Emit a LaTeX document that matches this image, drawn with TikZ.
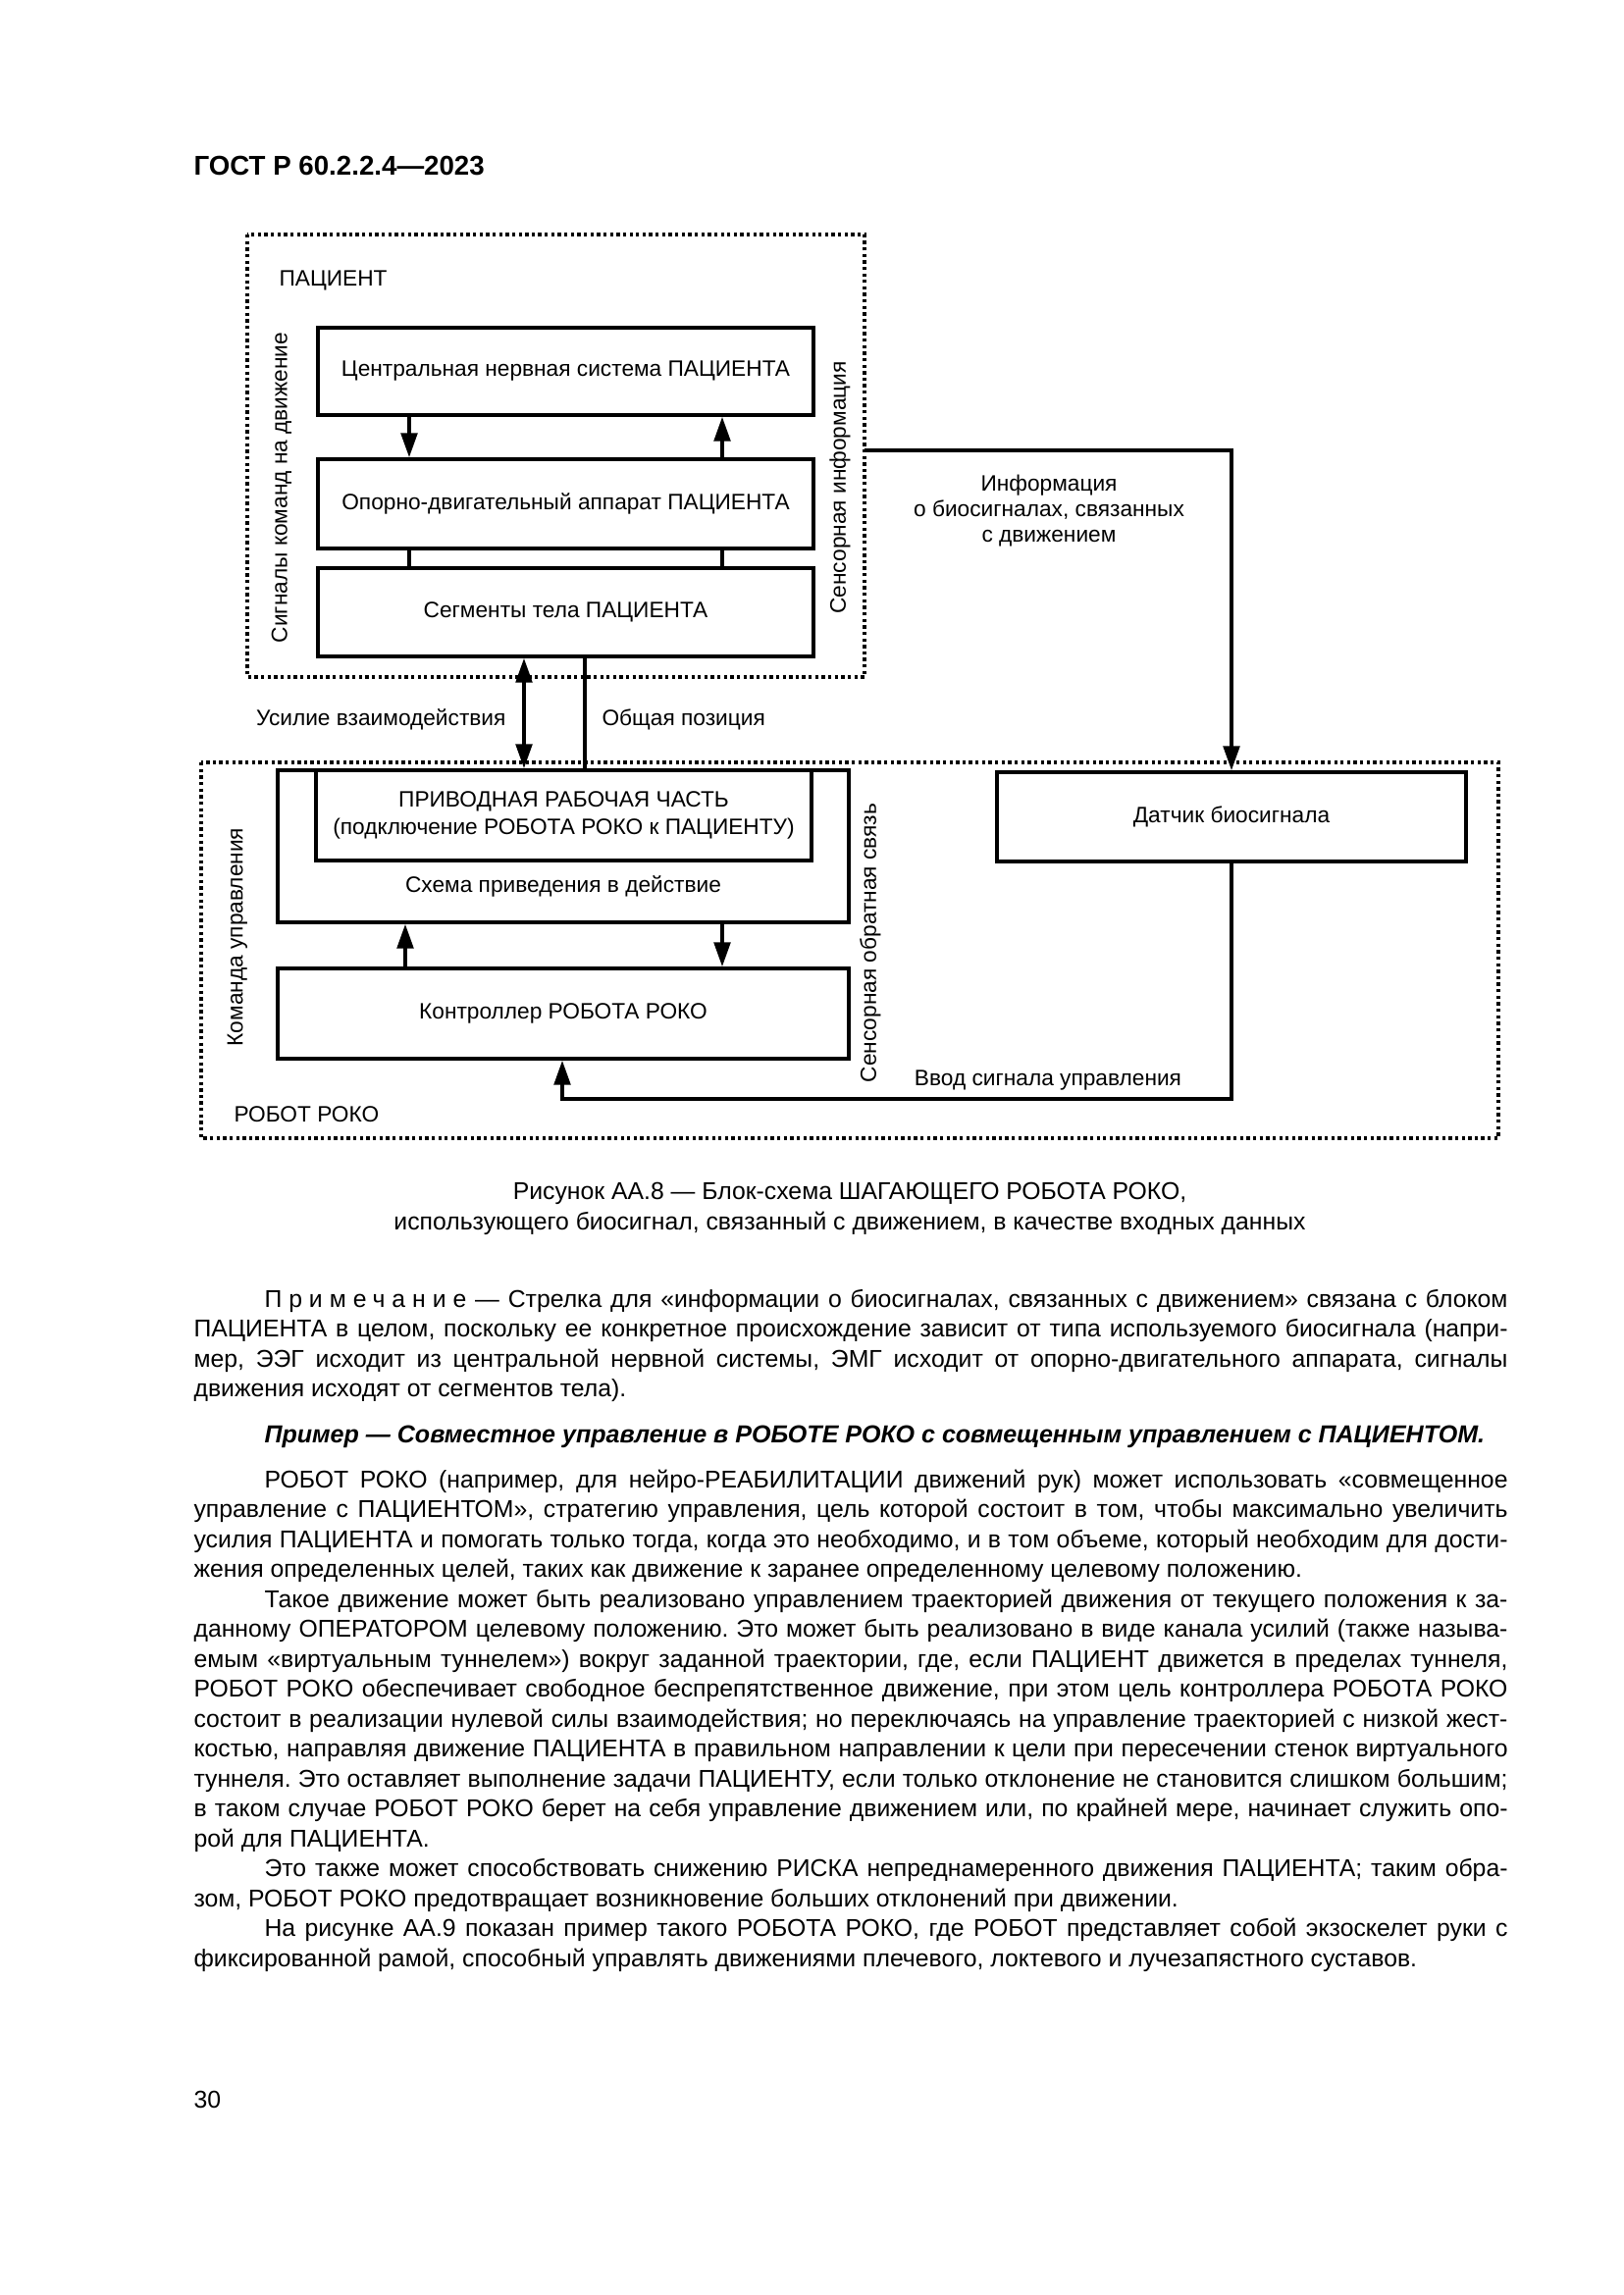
\documentclass[tikz,border=0pt]{standalone}
\usepackage{fontspec}
\setmainfont{Liberation Sans}
\usetikzlibrary{arrows.meta}
\frenchspacing

\newcommand{\diag}{\fontsize{8.2}{9.4}\selectfont}
\newcommand{\pagetext}{\fontsize{8.95}{11.02}\selectfont}

\begin{document}
\begin{tikzpicture}[x=0.12697mm, y=-0.12697mm,
    box/.style={draw=black, line width=1.3pt, inner sep=0pt, font=\diag, align=center},
    lbl/.style={inner sep=0pt, font=\diag},
    arr/.style={line width=1.3pt, -{Triangle[length=9pt,width=6pt]}},
    twoarr/.style={line width=1.3pt, {Triangle[length=9pt,width=6pt]}-{Triangle[length=9pt,width=6pt]}},
    wire/.style={line width=1.3pt},
    dotbox/.style={line width=1.2pt, dash pattern=on 1.2pt off 1.2pt},
    para/.style={inner sep=0pt, text width=170mm, align=justify, font=\pagetext}]
\useasboundingbox (0,0) rectangle (1654,2339);

\node[anchor=west, inner sep=0pt, font=\fontsize{10}{12}\selectfont\bfseries] (head) at (197,169) {ГОСТ Р 60.2.2.4—2023};

%Patient
\draw[dotbox] (252,239) rectangle (881,690);
\node[lbl, anchor=west] (pat) at (284,286) {ПАЦИЕНТ};
\node[box, minimum width=64.12mm, minimum height=11.30mm] (1) at (576.5,378.5) {Центральная нервная система ПАЦИЕНТА};
\node[box, minimum width=64.12mm, minimum height=11.55mm] (2) at (576.5,513.5) {Опорно-двигательный аппарат ПАЦИЕНТА};
\node[box, minimum width=64.12mm, minimum height=11.43mm] (3) at (576.5,624) {Сегменты тела ПАЦИЕНТА};
\node[lbl, rotate=90] (cmd) at (287,497) {Сигналы команд на движение};
\node[lbl, rotate=90] (sens) at (856,497) {Сенсорная информация};

%Robot
\draw[dotbox] (205,777) rectangle (1527,1160);
\node[box, minimum width=73.90mm, minimum height=19.68mm] (4) at (574,862.5) {};
\node[box, minimum width=64.12mm, minimum height=11.68mm, font=\fontsize{8.2}{10}\selectfont] (5) at (574.5,831) {ПРИВОДНАЯ РАБОЧАЯ ЧАСТЬ\\(подключение РОБОТА РОКО к ПАЦИЕНТУ)};
\node[lbl] (act) at (574,903) {Схема приведения в действие};
\node[box, minimum width=73.90mm, minimum height=11.68mm] (6) at (574,1033) {Контроллер РОБОТА РОКО};
\node[box, minimum width=60.69mm, minimum height=11.55mm] (7) at (1255,832.5) {Датчик биосигнала};
\node[lbl, rotate=90] (ctl) at (242,955) {Команда управления};
\node[lbl, rotate=90] (fb) at (887,961) {Сенсорная обратная связь};
\node[lbl, anchor=west] (rob) at (238,1136) {РОБОТ РОКО};

\node[lbl, anchor=east] (force) at (516,733) {Усилие взаимодействия};
\node[lbl, anchor=west] (pos) at (613,733) {Общая позиция};
\node[lbl, align=center] (info) at (1069,521) {Информация\\о биосигналах, связанных\\с движением};
\node[lbl] (inp) at (1068,1101) {Ввод сигнала управления};

\coordinate (out) at (881,459);
\coordinate (turn) at (573,1120);

%Arrows
\draw[arr] (417,0 |- 1.south) -- (417,0 |- 2.north);
\draw[arr] (736,0 |- 2.north) -- (736,0 |- 1.south);
\draw[wire] (417,0 |- 2.south) -- (417,0 |- 3.north);
\draw[wire] (736,0 |- 2.south) -- (736,0 |- 3.north);
\draw[twoarr] (534,0 |- 3.south) -- (534,0 |- 5.north);
\draw[wire] (596,0 |- 3.south) -- (596,0 |- 5.north);
\draw[arr] (out) -| (7.north);
\draw[arr] (413,0 |- 6.north) -- (413,0 |- 4.south);
\draw[arr] (736,0 |- 4.south) -- (736,0 |- 6.north);
\draw[arr] (7.south) |- (turn) -- (turn |- 6.south);

%Text
\node[align=center, inner sep=0pt, font=\pagetext] (cap) at (866,1232) {Рисунок АА.8 — Блок-схема ШАГАЮЩЕГО РОБОТА РОКО,\\использующего биосигнал, связанный с движением, в качестве входных данных};

\node[para, anchor=base west] (note) at (197,1332) {\hspace*{9.14mm}{\addfontfeature{LetterSpace=28}Примечание} — Стрелка для «информации о биосигналах, связанных с движением» связана с блоком\linebreak
ПАЦИЕНТА в целом, поскольку ее конкретное происхождение зависит от типа используемого биосигнала (напри-\linebreak
мер, ЭЭГ исходит из центральной нервной системы, ЭМГ исходит от опорно-двигательного аппарата, сигналы\linebreak
движения исходят от сегментов тела).};

\node[anchor=base west, inner sep=0pt, font=\fontsize{9.05}{11.02}\selectfont\bfseries\itshape] (ex) at (269,1470) {Пример — Совместное управление в РОБОТЕ РОКО с совмещенным управлением с ПАЦИЕНТОМ.};

\node[para, anchor=base west] (txt) at (197,1516) {\hspace*{9.14mm}РОБОТ РОКО (например, для нейро-РЕАБИЛИТАЦИИ движений рук) может использовать «совмещенное\linebreak
управление с ПАЦИЕНТОМ», стратегию управления, цель которой состоит в том, чтобы максимально увеличить\linebreak
усилия ПАЦИЕНТА и помогать только тогда, когда это необходимо, и в том объеме, который необходим для дости-\linebreak
жения определенных целей, таких как движение к заранее определенному целевому положению.\par
\hspace*{9.14mm}Такое движение может быть реализовано управлением траекторией движения от текущего положения к за-\linebreak
данному ОПЕРАТОРОМ целевому положению. Это может быть реализовано в виде канала усилий (также называ-\linebreak
емым «виртуальным туннелем») вокруг заданной траектории, где, если ПАЦИЕНТ движется в пределах туннеля,\linebreak
РОБОТ РОКО обеспечивает свободное беспрепятственное движение, при этом цель контроллера РОБОТА РОКО\linebreak
состоит в реализации нулевой силы взаимодействия; но переключаясь на управление траекторией с низкой жест-\linebreak
костью, направляя движение ПАЦИЕНТА в правильном направлении к цели при пересечении стенок виртуального\linebreak
туннеля. Это оставляет выполнение задачи ПАЦИЕНТУ, если только отклонение не становится слишком большим;\linebreak
в таком случае РОБОТ РОКО берет на себя управление движением или, по крайней мере, начинает служить опо-\linebreak
рой для ПАЦИЕНТА.\par
\hspace*{9.14mm}Это также может способствовать снижению РИСКА непреднамеренного движения ПАЦИЕНТА; таким обра-\linebreak
зом, РОБОТ РОКО предотвращает возникновение больших отклонений при движении.\par
\hspace*{9.14mm}На рисунке АА.9 показан пример такого РОБОТА РОКО, где РОБОТ представляет собой экзоскелет руки с\linebreak
фиксированной рамой, способный управлять движениями плечевого, локтевого и лучезапястного суставов.};

\node[anchor=west, inner sep=0pt, font=\pagetext] (pg) at (197,2140) {30};
\end{tikzpicture}
\end{document}
